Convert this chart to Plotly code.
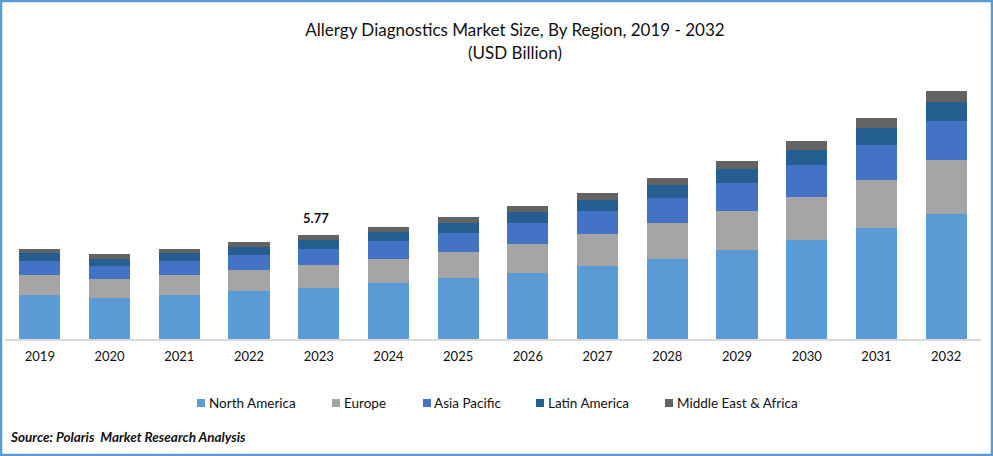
import plotly.graph_objects as go

years = [str(y) for y in range(2019, 2033)]
north_america = [2.44, 2.28, 2.44, 2.66, 2.83, 3.11, 3.39, 3.66, 4.05, 4.44, 4.94, 5.49, 6.16, 6.94]
europe = [1.11, 1.05, 1.11, 1.17, 1.28, 1.33, 1.44, 1.61, 1.78, 2.00, 2.16, 2.39, 2.66, 3.00]
asia_pacific = [0.78, 0.72, 0.78, 0.83, 0.89, 1.00, 1.05, 1.17, 1.28, 1.39, 1.55, 1.78, 1.94, 2.16]
latin_america = [0.44, 0.39, 0.44, 0.44, 0.50, 0.50, 0.55, 0.61, 0.61, 0.72, 0.78, 0.83, 0.94, 1.05]
middle_east = [0.22, 0.28, 0.22, 0.28, 0.27, 0.28, 0.33, 0.33, 0.39, 0.39, 0.44, 0.50, 0.55, 0.61]

FONT = "Lato"
BORDER = "#5B9BD5"
TEXT = "#111111"
LEFT, RIGHT, TOP, BOTTOM = 5, 981, 80, 339


# paper coordinates from picture pixels, for the frame and the hand placed legend
def px(x):
    return (x - LEFT) / (RIGHT - LEFT)


def py(y):
    return (BOTTOM - y) / (BOTTOM - TOP)


fig = go.Figure()
series = [
    ("North America", north_america, "#5B9BD5", 197, 208),
    ("Europe", europe, "#A5A5A5", 332, 343),
    ("Asia Pacific", asia_pacific, "#4472C4", 423, 433),
    ("Latin America", latin_america, "#255E91", 536, 547),
    ("Middle East & Africa", middle_east, "#636363", 665, 676),
]
for name, values, color, swatch_x, text_x in series:
    fig.add_trace(go.Bar(name=name, x=years, y=values, marker_color=color, marker_line_width=0))
    # plotly's own legend keeps a wider gap than the original, so draw it by hand
    fig.add_shape(type="rect", xref="paper", yref="paper", x0=px(swatch_x), x1=px(swatch_x + 8),
                  y0=py(407), y1=py(399), fillcolor=color, line_width=0)
    fig.add_annotation(xref="paper", yref="paper", x=px(text_x), y=py(402.5), xanchor="left", yanchor="middle",
                       text=name, showarrow=False, borderpad=0, font=dict(size=13.5, color=TEXT))

fig.update_layout(
    width=993,
    height=456,
    barmode="stack",
    bargap=0.41,
    showlegend=False,
    paper_bgcolor="white",
    plot_bgcolor="white",
    margin=dict(l=LEFT, r=993 - RIGHT, t=TOP, b=456 - BOTTOM),
    font=dict(family=FONT, color=TEXT, size=13),
    title=dict(
        text="Allergy Diagnostics Market Size, By Region, 2019 - 2032<br>(USD Billion)",
        font=dict(family=FONT, size=17, color=TEXT),
        x=515 / 993,
        xanchor="center",
        y=0.92,
        yanchor="top",
    ),
    xaxis=dict(type="category", showline=True, linecolor="#D9D9D9", linewidth=1.5,
               ticks="", tickfont=dict(size=13), ticklabelstandoff=5),
    yaxis=dict(visible=False, range=[0, 14.37]),
)

# total for 2023, the only labelled bar
idx_2023 = years.index("2023")
total_2023 = sum(s[1][idx_2023] for s in series)
fig.add_annotation(x=idx_2023, y=total_2023, text=f"<b>{total_2023:.2f}</b>", showarrow=False,
                   yshift=17, xshift=-3, font=dict(size=13, color=TEXT))
fig.add_annotation(xref="paper", yref="paper", x=px(9), y=py(437), xanchor="left", yanchor="middle",
                   text="<b><i>Source: Polaris  Market Research Analysis</i></b>", showarrow=False,
                   borderpad=0, font=dict(size=13.5, color=TEXT))

# blue frame round the whole picture
fig.add_shape(type="rect", xref="paper", yref="paper", x0=px(1), x1=px(992), y0=py(455), y1=py(1),
              line=dict(color=BORDER, width=2.5), fillcolor="rgba(0,0,0,0)", layer="below")

fig.write_html("out.html", config={"displayModeBar": False}, post_script="document.body.style.margin='0';")
